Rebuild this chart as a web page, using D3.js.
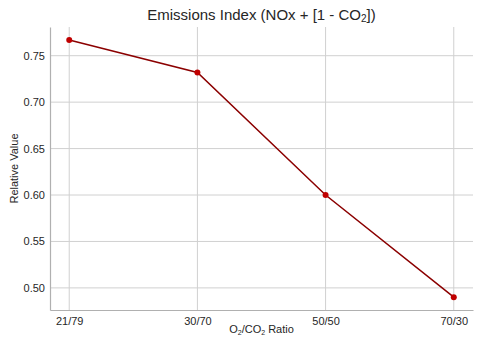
<!DOCTYPE html>
<html>
<head>
<meta charset="utf-8">
<script src="https://cdn.jsdelivr.net/npm/d3@7"></script>
<style>
  body { margin: 0; background: #fff; }
  text { font-family: "Liberation Sans", Arial, sans-serif; fill: #262626; }
</style>
</head>
<body>
<div id="chart"></div>
<script>
// data
const ratios = ["21/79", "30/70", "50/50", "70/30"];
const values = [0.767, 0.732, 0.600, 0.490];
const yTicks = [0.50, 0.55, 0.60, 0.65, 0.70, 0.75];

const width = 480, height = 339;
const margin = {top: 27, right: 7, bottom: 29, left: 50};

const svg = d3.select("#chart").append("svg")
  .attr("width", width)
  .attr("height", height);

// categorical positions with matplotlib-like 5% padding
const x = d3.scaleLinear()
  .domain([-0.15, ratios.length - 1 + 0.15])
  .range([margin.left, width - margin.right]);

const y = d3.scaleLinear()
  .domain([0.4762, 0.7809])
  .range([height - margin.bottom, margin.top]);

// grid
svg.append("g").selectAll("line").data(ratios).enter().append("line")
  .attr("x1", (d, i) => x(i)).attr("x2", (d, i) => x(i))
  .attr("y1", margin.top).attr("y2", height - margin.bottom)
  .attr("stroke", "#d0d0d0").attr("stroke-width", 1);

svg.append("g").selectAll("line").data(yTicks).enter().append("line")
  .attr("x1", margin.left).attr("x2", width - margin.right)
  .attr("y1", d => y(d)).attr("y2", d => y(d))
  .attr("stroke", "#d0d0d0").attr("stroke-width", 1);

// axes
const xAxis = svg.append("g")
  .attr("transform", "translate(0," + (height - margin.bottom) + ")")
  .call(d3.axisBottom(x).tickValues(d3.range(ratios.length)).tickFormat(i => ratios[i]).tickSize(0).tickPadding(7));

const yAxis = svg.append("g")
  .attr("transform", "translate(" + margin.left + ",0)")
  .call(d3.axisLeft(y).tickValues(yTicks).tickFormat(d3.format(".2f")).tickSize(0).tickPadding(5));

[xAxis, yAxis].forEach(a => {
  a.select(".domain").attr("stroke", "#b0b0b0").attr("stroke-width", 1.2);
  a.selectAll("text").attr("font-size", 11).attr("fill", "#262626")
    .attr("font-family", "Liberation Sans, Arial, sans-serif");
});

// line + markers
const line = d3.line()
  .x((d, i) => x(i))
  .y(d => y(d));

svg.append("path")
  .datum(values)
  .attr("d", line)
  .attr("fill", "none")
  .attr("stroke", "#8b0000")
  .attr("stroke-width", 1.5);

svg.append("g").selectAll("circle").data(values).enter().append("circle")
  .attr("cx", (d, i) => x(i))
  .attr("cy", d => y(d))
  .attr("r", 3)
  .attr("fill", "#c00000");

// title + labels
const title = svg.append("text")
  .attr("x", (margin.left + width - margin.right) / 2)
  .attr("y", 20)
  .attr("text-anchor", "middle")
  .attr("font-size", 15);
title.append("tspan").text("Emissions Index (NOx + [1 - CO");
title.append("tspan").text("2").attr("font-size", 10).attr("dy", 2);
title.append("tspan").text("])").attr("dy", -2);

const xl = svg.append("text")
  .attr("x", (margin.left + width - margin.right) / 2)
  .attr("y", 333)
  .attr("text-anchor", "middle")
  .attr("font-size", 11);
xl.append("tspan").text("O");
xl.append("tspan").text("2").attr("font-size", 7).attr("dy", 2);
xl.append("tspan").text("/CO").attr("dy", -2);
xl.append("tspan").text("2").attr("font-size", 7).attr("dy", 2);
xl.append("tspan").text(" Ratio").attr("dy", -2);

svg.append("text")
  .attr("transform", "translate(18," + ((margin.top + height - margin.bottom) / 2) + ") rotate(-90)")
  .attr("text-anchor", "middle")
  .attr("font-size", 11)
  .text("Relative Value");
</script>
</body>
</html>
